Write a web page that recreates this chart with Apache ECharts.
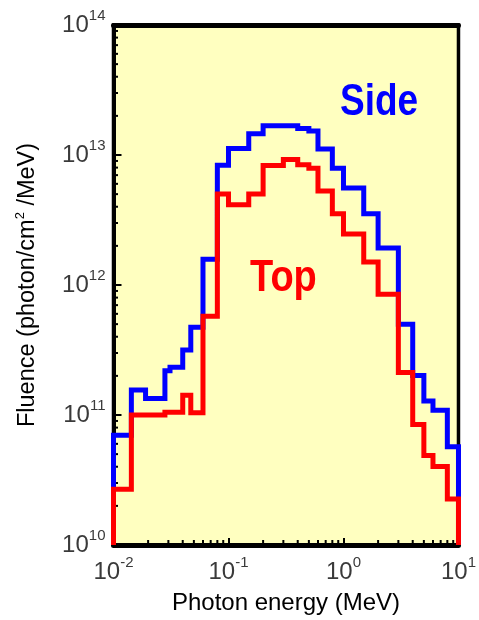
<!DOCTYPE html>
<html><head><meta charset="utf-8">
<script src="https://cdn.jsdelivr.net/npm/echarts@6/dist/echarts.min.js"></script>
<style>html,body{margin:0;padding:0;background:#fff}#c{width:479px;height:620px}</style>
</head><body><div id="c"></div>
<script>
// Photon energy bin edges (MeV)
const energyEdges = [0.01, 0.0143, 0.019, 0.028, 0.031, 0.04, 0.047, 0.06, 0.08, 0.1, 0.15, 0.2, 0.3, 0.4, 0.5, 0.6, 0.8, 1, 1.5, 2, 3, 4, 5, 6, 8, 10];
// Fluence per bin (photon/cm2/MeV)
const sideFluence = [7.0e10, 1.56e11, 1.34e11, 2.19e11, 2.33e11, 3.16e11, 4.73e11, 1.58e12, 8.35e12, 1.12e13, 1.46e13, 1.68e13, 1.68e13, 1.60e13, 1.53e13, 1.11e13, 7.9e12, 5.57e12, 3.53e12, 1.93e12, 4.99e11, 2.01e11, 1.28e11, 1.09e11, 5.70e10];
const topFluence = [2.69e10, 1.0e11, 1.0e11, 1.05e11, 1.05e11, 1.42e11, 1.04e11, 5.74e11, 5.01e12, 4.14e12, 5.01e12, 8.32e12, 9.25e12, 8.4e12, 7.9e12, 5.28e12, 3.53e12, 2.47e12, 1.50e12, 8.5e11, 2.12e11, 8.45e10, 4.88e10, 4.02e10, 2.26e10];
const seriesNames = ['Side', 'Top'];
const xRange = [0.01, 10];
const yRange = [1e10, 1e14];
const xTitle = 'Photon energy (MeV)';

const FONT = 'Liberation Sans, Arial, Helvetica, sans-serif';

function stepData(values) {
  const n = values.length;
  const d = [[energyEdges[0], yRange[0]]];
  for (let i = 0; i < n; i++) d.push([energyEdges[i], values[i]]);
  d.push([energyEdges[n], values[n - 1]]);
  d.push([energyEdges[n], yRange[0]]);
  return d;
}
function minorValues(lo, hi) {
  const out = [];
  for (let e = Math.round(Math.log10(lo)); e < Math.round(Math.log10(hi)); e++)
    for (let k = 2; k <= 9; k++) out.push(k * Math.pow(10, e));
  return out;
}
const xMinor = minorValues(xRange[0], xRange[1]).map(v => [v, yRange[0]]);
const yMinor = minorValues(yRange[0], yRange[1]).map(v => [xRange[0], v]);

function powLabel(v) {
  const e = Math.round(Math.log10(v));
  return '{b|10}{s|' + e + '}';
}
const labRich = {
  b: { fontSize: 24, lineHeight: 34, color: '#3a3a3a', fontFamily: FONT },
  s: { fontSize: 15, lineHeight: 15, verticalAlign: 'top', color: '#3a3a3a', fontFamily: FONT }
};

const chart = echarts.init(document.getElementById('c'), null, { renderer: 'canvas' });
chart.setOption({
  animation: false,
  backgroundColor: '#ffffff',
  grid: { left: 113.5, right: 18, top: 25, bottom: 70, show: true, backgroundColor: '#FFFFC0', borderColor: '#000', borderWidth: 3.5 },
  xAxis: [{
    type: 'log', logBase: 10, min: xRange[0], max: xRange[1], position: 'bottom',
    name: xTitle, nameLocation: 'middle', nameGap: 46,
    nameTextStyle: { fontSize: 24, color: '#000', fontFamily: FONT },
    axisLine: { show: true, lineStyle: { color: '#000', width: 5 } },
    axisTick: { show: true, inside: true, length: 7, lineStyle: { color: '#000', width: 2 } },
    axisLabel: { formatter: powLabel, rich: labRich, margin: 10 },
    splitLine: { show: false }
  }, {
    type: 'log', logBase: 10, min: xRange[0], max: xRange[1], position: 'top',
    axisLine: { show: true, lineStyle: { color: '#000', width: 5 } },
    axisTick: { show: false }, axisLabel: { show: false }, splitLine: { show: false }
  }],
  yAxis: {
    type: 'log', logBase: 10, min: yRange[0], max: yRange[1],
    name: '{t|Fluence (photon/cm}{s|2}{t| /MeV)}', nameLocation: 'middle', nameGap: 72,
    nameTextStyle: { rich: {
      t: { fontSize: 23.5, lineHeight: 28, color: '#000', fontFamily: FONT },
      s: { fontSize: 13, lineHeight: 13, verticalAlign: 'top', color: '#000', fontFamily: FONT }
    } },
    axisLine: { show: true, lineStyle: { color: '#000', width: 4 } },
    axisTick: { show: true, inside: true, length: 8, lineStyle: { color: '#000', width: 2 } },
    axisLabel: { formatter: powLabel, rich: labRich, margin: 8 },
    splitLine: { show: false }
  },
  series: [
    { type: 'custom', coordinateSystem: 'cartesian2d', silent: true, z: 5, data: xMinor,
      renderItem: function (p, api) {
        const c = api.coord([api.value(0), api.value(1)]);
        return { type: 'line', shape: { x1: c[0], y1: c[1], x2: c[0], y2: c[1] - 5 }, style: { stroke: '#000', lineWidth: 2 } };
      } },
    { type: 'custom', coordinateSystem: 'cartesian2d', silent: true, z: 5, data: yMinor,
      renderItem: function (p, api) {
        const c = api.coord([api.value(0), api.value(1)]);
        return { type: 'line', shape: { x1: c[0], y1: c[1], x2: c[0] + 4.5, y2: c[1] }, style: { stroke: '#000', lineWidth: 2 } };
      } },
    { name: seriesNames[0], type: 'line', step: 'end', data: stepData(sideFluence), showSymbol: false, clip: false, z: 6,
      lineStyle: { color: '#0000FF', width: 5, join: 'miter', cap: 'butt' } },
    { name: seriesNames[1], type: 'line', step: 'end', data: stepData(topFluence), showSymbol: false, clip: false, z: 7,
      lineStyle: { color: '#FF0000', width: 5, join: 'miter', cap: 'butt' } }
  ],
  graphic: [
    { type: 'text', x: 340, y: 81, scaleY: 1.18, z: 10,
      style: { text: seriesNames[0], font: 'bold 37px ' + FONT, fill: '#0000FF', verticalAlign: 'top' } },
    { type: 'text', x: 250, y: 256, scaleY: 1.18, z: 10,
      style: { text: seriesNames[1], font: 'bold 38px ' + FONT, fill: '#FF0000', verticalAlign: 'top' } }
  ]
});
</script></body></html>
